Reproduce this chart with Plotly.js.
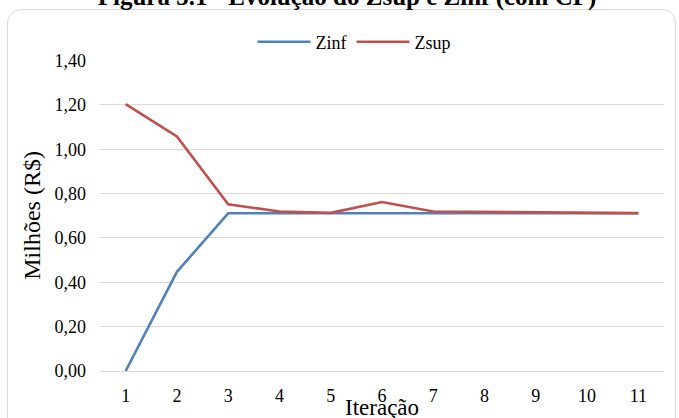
<!DOCTYPE html>
<html>
<head>
<meta charset="utf-8">
<script src="https://cdn.plot.ly/plotly-3.0.1.min.js"></script>
<style>
  html, body { margin: 0; padding: 0; background: #ffffff; overflow: hidden; }
  #wrap { position: relative; width: 679px; height: 418px; }
  #frame {
    position: absolute; left: 7px; top: 9px; width: 669px; height: 430px;
    border: 1px solid #d9d9d9; border-radius: 14px; box-sizing: border-box;
  }
  #chart { position: absolute; left: 0; top: 0; width: 679px; height: 418px; }
</style>
</head>
<body>
<div id="wrap">
  <div id="frame"></div>
  <div id="chart"></div>
</div>
<script>
// Iterations of the cutting-plane procedure
const iteracoes = ['1', '2', '3', '4', '5', '6', '7', '8', '9', '10', '11'];
// Lower bound (Zinf), millions of R$
const zinf = [0.000, 0.447, 0.711, 0.711, 0.711, 0.712, 0.712, 0.712, 0.711, 0.711, 0.711];
// Upper bound (Zsup), millions of R$
const zsup = [1.203, 1.058, 0.752, 0.719, 0.713, 0.762, 0.719, 0.718, 0.714, 0.713, 0.712];
const yTicks = [0, 0.2, 0.4, 0.6, 0.8, 1.0, 1.2, 1.4];

const serif = '"Liberation Serif", "Times New Roman", serif';

const traces = [
  {
    x: iteracoes, y: zinf, name: 'Zinf', type: 'scatter', mode: 'lines',
    line: { color: '#4f81bd', width: 2.6 }
  },
  {
    x: iteracoes, y: zsup, name: 'Zsup', type: 'scatter', mode: 'lines',
    line: { color: '#c0504d', width: 2.6 }
  }
];

const layout = {
  width: 679, height: 418,
  margin: { l: 100, r: 15, t: 60, b: 47 },
  paper_bgcolor: 'rgba(0,0,0,0)',
  plot_bgcolor: 'rgba(0,0,0,0)',
  separators: ',.',
  font: { family: serif, size: 18, color: '#000000' },
  title: {
    text: '<b>Figura 5.1 - Evolução do Zsup e Zinf (com CP)</b>',
    font: { family: serif, size: 25, color: '#000000' },
    xref: 'container', yref: 'container',
    x: 347 / 679, xanchor: 'center',
    y: 1 - 5 / 418, yanchor: 'bottom'
  },
  showlegend: true,
  legend: {
    orientation: 'h',
    x: 354 / 679, xanchor: 'center', xref: 'container',
    y: 1 - 42 / 418, yanchor: 'middle', yref: 'container',
    font: { family: serif, size: 18 },
    itemwidth: 53,
    bgcolor: 'rgba(0,0,0,0)'
  },
  xaxis: {
    type: 'category',
    range: [-0.5, 10.5],
    showgrid: false,
    showline: true, linecolor: '#d9d9d9', linewidth: 1,
    ticks: '',
    ticklabelstandoff: 8,
    tickfont: { family: serif, size: 18 },
    zeroline: false,
    fixedrange: true
  },
  yaxis: {
    range: [0, 1.4],
    tickvals: yTicks,
    tickformat: '.2f',
    showgrid: true, gridcolor: '#d9d9d9', gridwidth: 1,
    showline: false,
    zeroline: false,
    ticks: '',
    ticklabelstandoff: 13,
    tickfont: { family: serif, size: 18 },
    fixedrange: true
  },
  annotations: [
    {
      // x-axis title
      text: 'Iteração', showarrow: false,
      xref: 'paper', yref: 'paper', x: 0.5, y: -(408 - 371) / 311,
      xanchor: 'center', yanchor: 'middle',
      font: { family: serif, size: 23, color: '#000000' }
    },
    {
      // y-axis title
      text: 'Milhões (R$)', showarrow: false, textangle: -90,
      xref: 'paper', yref: 'paper', x: (32 - 100) / 564, y: 0.5,
      xanchor: 'center', yanchor: 'middle',
      font: { family: serif, size: 24, color: '#000000' }
    }
  ]
};

Plotly.newPlot('chart', traces, layout, { displayModeBar: false, staticPlot: true });
</script>
</body>
</html>
